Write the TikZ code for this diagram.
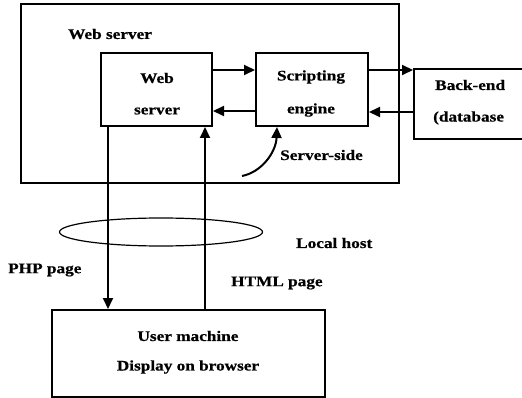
\documentclass[tikz,border=0pt]{standalone}
\usepackage{fontspec}
\setmainfont{Liberation Serif}[FakeStretch=1.18,FakeBold=0.6]
\usetikzlibrary{arrows.meta,shapes.geometric}
\begin{document}
\begin{tikzpicture}[x=1pt,y=-1pt,
  box/.style={draw,line width=2pt,inner sep=0pt},
  lbl/.style={font=\bfseries\fontsize{14.6}{16}\selectfont,inner sep=0pt},
  arr/.style={line width=2pt,-{Triangle[length=11pt,width=10pt]}}]
\useasboundingbox (0,0) rectangle (522,398);
\node[box,minimum width=378pt,minimum height=179pt] (outer) at (210,93.5) {};
\node[box,minimum width=111pt,minimum height=73pt] (web) at (156.5,89.5) {};
\node[box,minimum width=112pt,minimum height=73pt] (script) at (312,89.5) {};
\node[box,minimum width=116pt,minimum height=70pt] (db) at (472,104) {};
\node[box,minimum width=273pt,minimum height=87pt] (user) at (188.5,353.5) {};
\node[draw,ellipse,line width=1.2pt,minimum width=203pt,minimum height=28pt] (lh) at (161,232) {};
% labels
\node[lbl,anchor=west] (t1) at (68,34) {Web server};
\node[lbl] (t2) at (157,78) {Web};
\node[lbl] (t3) at (157,111) {server};
\node[lbl] (t4) at (311,77) {Scripting};
\node[lbl] (t5) at (311,110) {engine};
\node[lbl,anchor=west] (t6) at (435,85) {Back-end};
\node[lbl,anchor=west] (t7) at (433,118) {(database};
\node[lbl,anchor=west] (t8) at (280,155) {Server-side};
\node[lbl,anchor=west] (t9) at (296,243) {Local host};
\node[lbl,anchor=west] (t10) at (8,270) {PHP page};
\node[lbl,anchor=west] (t11) at (231,283) {HTML page};
\node[lbl] (t12) at (188,336) {User machine};
\node[lbl] (t13) at (188,367) {Display on browser};
% connectors
\draw[arr] (web.east |- 0,70) -- (script.west |- 0,70);
\draw[arr] (script.west |- 0,111) -- (web.east |- 0,111);
\draw[arr] (script.east |- 0,70) -- (db.west |- 0,70);
\draw[arr] (db.west |- 0,112) -- (script.east |- 0,112);
\draw[arr] (web.south -| 108,0) -- (user.north -| 108,0);
\draw[arr] (user.north -| 205,0) -- (web.south -| 205,0);
\coordinate (cs) at (242,176);
\draw[arr] (cs) .. controls (262,172) and (276,152) .. (script.south -| 277,0);
\end{tikzpicture}
\end{document}
